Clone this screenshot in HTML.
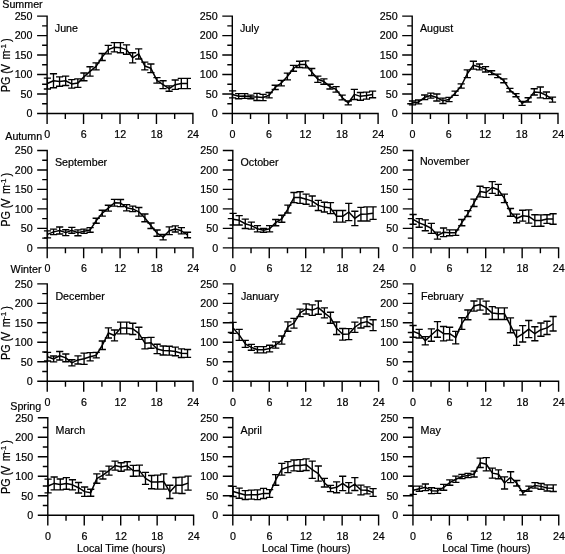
<!DOCTYPE html>
<html><head><meta charset="utf-8"><style>html,body{margin:0;padding:0;background:#fff}svg{display:block;will-change:transform;opacity:0.999}text{stroke:#000;stroke-width:0.2px}</style></head>
<body><svg width="565" height="554" viewBox="0 0 565 554" font-family="Liberation Sans, sans-serif" font-size="10.7" fill="#000"><rect width="565" height="554" fill="#fff"/><text x="2.3" y="8.0">Summer</text><text transform="translate(10.0,92.30) rotate(-90) scale(0.9,1)" font-size="12">PG</text><text transform="translate(10.0,73.80) rotate(-90) scale(0.9,1)" font-size="12">(</text><text transform="translate(10.0,71.30) rotate(-90) scale(0.9,1)" font-size="12">V</text><text transform="translate(10.0,59.60) rotate(-90) scale(0.9,1)" font-size="12">m</text><text transform="translate(5.8,51.20) rotate(-90) scale(1.0,1)" font-size="8">-1</text><text transform="translate(10.0,42.10) rotate(-90) scale(0.9,1)" font-size="12">)</text><path d="M47.10 15.40V123.90M37.10 113.50H193.60M42.10 103.76H47.10M37.10 94.02H47.10M42.10 84.28H47.10M37.10 74.54H47.10M42.10 64.80H47.10M37.10 55.06H47.10M42.10 45.32H47.10M37.10 35.58H47.10M42.10 25.84H47.10M37.10 16.10H47.10M65.33 113.50V119.00M83.55 113.50V123.90M101.78 113.50V119.00M120.00 113.50V123.90M138.22 113.50V119.00M156.45 113.50V123.90M174.68 113.50V119.00M192.90 113.50V123.90" stroke="#000" stroke-width="1.4" fill="none"/><text x="32.5" y="117.3" text-anchor="end">0</text><text x="32.5" y="97.8" text-anchor="end">50</text><text x="32.5" y="78.3" text-anchor="end">100</text><text x="32.5" y="58.9" text-anchor="end">150</text><text x="32.5" y="39.4" text-anchor="end">200</text><text x="32.5" y="19.9" text-anchor="end">250</text><text x="47.3" y="138.1" text-anchor="middle">0</text><text x="83.8" y="138.1" text-anchor="middle">6</text><text x="120.2" y="138.1" text-anchor="middle">12</text><text x="156.7" y="138.1" text-anchor="middle">18</text><text x="193.1" y="138.1" text-anchor="middle">24</text><text x="54.8" y="32.2">June</text><path d="M47.40 78.05V88.96M43.80 78.05h7.2M43.80 88.96h7.2M53.49 73.76V87.79M49.89 73.76h7.2M49.89 87.79h7.2M59.57 76.88V86.23M55.97 76.88h7.2M55.97 86.23h7.2M65.66 76.10V85.45M62.06 76.10h7.2M62.06 85.45h7.2M71.75 79.60V88.18M68.15 79.60h7.2M68.15 88.18h7.2M77.83 78.83V87.40M74.23 78.83h7.2M74.23 87.40h7.2M83.92 72.98V80.77M80.32 72.98h7.2M80.32 80.77h7.2M90.01 66.75V76.10M86.41 66.75h7.2M86.41 76.10h7.2M96.10 62.85V69.86M92.50 62.85h7.2M92.50 69.86h7.2M102.18 53.50V60.51M98.58 53.50h7.2M98.58 60.51h7.2M108.27 45.32V53.89M104.67 45.32h7.2M104.67 53.89h7.2M114.36 42.59V51.94M110.76 42.59h7.2M110.76 51.94h7.2M120.44 42.59V52.72M116.84 42.59h7.2M116.84 52.72h7.2M126.53 44.93V54.28M122.93 44.93h7.2M122.93 54.28h7.2M132.62 52.72V62.85M129.02 52.72h7.2M129.02 62.85h7.2M138.70 48.83V58.96M135.10 48.83h7.2M135.10 58.96h7.2M144.79 62.07V69.86M141.19 62.07h7.2M141.19 69.86h7.2M150.88 64.02V72.59M147.28 64.02h7.2M147.28 72.59h7.2M156.97 77.66V83.11M153.37 77.66h7.2M153.37 83.11h7.2M163.05 80.77V88.57M159.45 80.77h7.2M159.45 88.57h7.2M169.14 85.84V91.29M165.54 85.84h7.2M165.54 91.29h7.2M175.23 79.99V89.34M171.63 79.99h7.2M171.63 89.34h7.2M181.31 78.44V88.57M177.71 78.44h7.2M177.71 88.57h7.2M187.40 78.44V88.57M183.80 78.44h7.2M183.80 88.57h7.2" stroke="#000" stroke-width="1.35" fill="none"/><polyline points="47.40,83.50 53.49,80.77 59.57,81.55 65.66,80.77 71.75,83.89 77.83,83.11 83.92,76.88 90.01,71.42 96.10,66.36 102.18,57.01 108.27,49.61 114.36,47.27 120.44,47.66 126.53,49.61 132.62,57.79 138.70,53.89 144.79,65.97 150.88,68.31 156.97,80.38 163.05,84.67 169.14,88.57 175.23,84.67 181.31,83.50 187.40,83.50" stroke="#000" stroke-width="1.5" fill="none" stroke-linejoin="round"/><path d="M232.30 15.40V123.90M222.30 113.50H378.80M227.30 103.76H232.30M222.30 94.02H232.30M227.30 84.28H232.30M222.30 74.54H232.30M227.30 64.80H232.30M222.30 55.06H232.30M227.30 45.32H232.30M222.30 35.58H232.30M227.30 25.84H232.30M222.30 16.10H232.30M250.53 113.50V119.00M268.75 113.50V123.90M286.98 113.50V119.00M305.20 113.50V123.90M323.43 113.50V119.00M341.65 113.50V123.90M359.88 113.50V119.00M378.10 113.50V123.90" stroke="#000" stroke-width="1.4" fill="none"/><text x="217.7" y="117.3" text-anchor="end">0</text><text x="217.7" y="97.8" text-anchor="end">50</text><text x="217.7" y="78.3" text-anchor="end">100</text><text x="217.7" y="58.9" text-anchor="end">150</text><text x="217.7" y="39.4" text-anchor="end">200</text><text x="217.7" y="19.9" text-anchor="end">250</text><text x="232.5" y="138.1" text-anchor="middle">0</text><text x="268.9" y="138.1" text-anchor="middle">6</text><text x="305.4" y="138.1" text-anchor="middle">12</text><text x="341.9" y="138.1" text-anchor="middle">18</text><text x="378.3" y="138.1" text-anchor="middle">24</text><text x="240.0" y="32.2">July</text><path d="M232.60 90.90V97.92M229.00 90.90h7.2M229.00 97.92h7.2M238.69 93.63V98.70M235.09 93.63h7.2M235.09 98.70h7.2M244.77 93.63V98.31M241.17 93.63h7.2M241.17 98.31h7.2M250.86 95.19V98.70M247.26 95.19h7.2M247.26 98.70h7.2M256.95 93.44V100.45M253.35 93.44h7.2M253.35 100.45h7.2M263.04 94.41V100.64M259.44 94.41h7.2M259.44 100.64h7.2M269.12 92.46V97.92M265.52 92.46h7.2M265.52 97.92h7.2M275.21 85.25V89.54M271.61 85.25h7.2M271.61 89.54h7.2M281.30 80.38V85.84M277.70 80.38h7.2M277.70 85.84h7.2M287.38 73.18V79.80M283.78 73.18h7.2M283.78 79.80h7.2M293.47 65.38V71.23M289.87 65.38h7.2M289.87 71.23h7.2M299.56 61.29V67.53M295.96 61.29h7.2M295.96 67.53h7.2M305.64 60.90V67.92M302.04 60.90h7.2M302.04 67.92h7.2M311.73 68.50V75.51M308.13 68.50h7.2M308.13 75.51h7.2M317.82 76.10V82.33M314.22 76.10h7.2M314.22 82.33h7.2M323.91 78.83V84.28M320.31 78.83h7.2M320.31 84.28h7.2M329.99 84.28V88.96M326.39 84.28h7.2M326.39 88.96h7.2M336.08 86.62V92.07M332.48 86.62h7.2M332.48 92.07h7.2M342.17 95.19V99.86M338.57 95.19h7.2M338.57 99.86h7.2M348.25 101.03V104.93M344.65 101.03h7.2M344.65 104.93h7.2M354.34 89.34V99.47M350.74 89.34h7.2M350.74 99.47h7.2M360.43 92.46V100.25M356.83 92.46h7.2M356.83 100.25h7.2M366.51 92.07V99.08M362.91 92.07h7.2M362.91 99.08h7.2M372.60 91.10V97.72M369.00 91.10h7.2M369.00 97.72h7.2" stroke="#000" stroke-width="1.35" fill="none"/><polyline points="232.60,94.41 238.69,96.16 244.77,95.97 250.86,96.94 256.95,96.94 263.04,97.53 269.12,95.19 275.21,87.40 281.30,83.11 287.38,76.49 293.47,68.31 299.56,64.41 305.64,64.41 311.73,72.01 317.82,79.22 323.91,81.55 329.99,86.62 336.08,89.34 342.17,97.53 348.25,102.98 354.34,94.41 360.43,96.36 366.51,95.58 372.60,94.41" stroke="#000" stroke-width="1.5" fill="none" stroke-linejoin="round"/><path d="M412.20 15.40V123.90M402.20 113.50H558.70M407.20 103.76H412.20M402.20 94.02H412.20M407.20 84.28H412.20M402.20 74.54H412.20M407.20 64.80H412.20M402.20 55.06H412.20M407.20 45.32H412.20M402.20 35.58H412.20M407.20 25.84H412.20M402.20 16.10H412.20M430.43 113.50V119.00M448.65 113.50V123.90M466.88 113.50V119.00M485.10 113.50V123.90M503.32 113.50V119.00M521.55 113.50V123.90M539.77 113.50V119.00M558.00 113.50V123.90" stroke="#000" stroke-width="1.4" fill="none"/><text x="397.6" y="117.3" text-anchor="end">0</text><text x="397.6" y="97.8" text-anchor="end">50</text><text x="397.6" y="78.3" text-anchor="end">100</text><text x="397.6" y="58.9" text-anchor="end">150</text><text x="397.6" y="39.4" text-anchor="end">200</text><text x="397.6" y="19.9" text-anchor="end">250</text><text x="412.4" y="138.1" text-anchor="middle">0</text><text x="448.8" y="138.1" text-anchor="middle">6</text><text x="485.3" y="138.1" text-anchor="middle">12</text><text x="521.8" y="138.1" text-anchor="middle">18</text><text x="558.2" y="138.1" text-anchor="middle">24</text><text x="419.9" y="32.2">August</text><path d="M412.50 101.03V104.93M408.90 101.03h7.2M408.90 104.93h7.2M418.59 99.98V103.88M414.99 99.98h7.2M414.99 103.88h7.2M424.67 94.99V99.67M421.07 94.99h7.2M421.07 99.67h7.2M430.76 93.05V98.11M427.16 93.05h7.2M427.16 98.11h7.2M436.85 94.02V101.03M433.25 94.02h7.2M433.25 101.03h7.2M442.94 98.07V103.53M439.33 98.07h7.2M439.33 103.53h7.2M449.02 97.33V101.62M445.42 97.33h7.2M445.42 101.62h7.2M455.11 91.10V95.38M451.51 91.10h7.2M451.51 95.38h7.2M461.20 83.81V88.10M457.60 83.81h7.2M457.60 88.10h7.2M467.28 69.86V77.66M463.68 69.86h7.2M463.68 77.66h7.2M473.37 61.29V69.09M469.77 61.29h7.2M469.77 69.09h7.2M479.46 64.02V69.86M475.86 64.02h7.2M475.86 69.86h7.2M485.54 66.55V72.01M481.94 66.55h7.2M481.94 72.01h7.2M491.63 70.76V74.66M488.03 70.76h7.2M488.03 74.66h7.2M497.72 74.15V77.66M494.12 74.15h7.2M494.12 77.66h7.2M503.81 78.83V82.72M500.20 78.83h7.2M500.20 82.72h7.2M509.89 88.37V91.88M506.29 88.37h7.2M506.29 91.88h7.2M515.98 93.63V96.75M512.38 93.63h7.2M512.38 96.75h7.2M522.07 101.42V105.32M518.47 101.42h7.2M518.47 105.32h7.2M528.15 97.72V102.01M524.55 97.72h7.2M524.55 102.01h7.2M534.24 88.76V94.99M530.64 88.76h7.2M530.64 94.99h7.2M540.33 87.01V97.92M536.73 87.01h7.2M536.73 97.92h7.2M546.41 91.99V98.62M542.81 91.99h7.2M542.81 98.62h7.2M552.50 97.10V102.16M548.90 97.10h7.2M548.90 102.16h7.2" stroke="#000" stroke-width="1.35" fill="none"/><polyline points="412.50,102.98 418.59,101.93 424.67,97.33 430.76,95.58 436.85,97.53 442.94,100.80 449.02,99.47 455.11,93.24 461.20,85.96 467.28,73.76 473.37,65.19 479.46,66.94 485.54,69.28 491.63,72.71 497.72,75.90 503.81,80.77 509.89,90.12 515.98,95.19 522.07,103.37 528.15,99.86 534.24,91.88 540.33,92.46 546.41,95.31 552.50,99.63" stroke="#000" stroke-width="1.5" fill="none" stroke-linejoin="round"/><text x="5.3" y="140.4">Autumn</text><text transform="translate(10.0,226.65) rotate(-90) scale(0.9,1)" font-size="12">PG</text><text transform="translate(10.0,208.15) rotate(-90) scale(0.9,1)" font-size="12">(</text><text transform="translate(10.0,205.65) rotate(-90) scale(0.9,1)" font-size="12">V</text><text transform="translate(10.0,193.95) rotate(-90) scale(0.9,1)" font-size="12">m</text><text transform="translate(5.8,185.55) rotate(-90) scale(1.0,1)" font-size="8">-1</text><text transform="translate(10.0,176.45) rotate(-90) scale(0.9,1)" font-size="12">)</text><path d="M47.20 149.75V258.25M37.20 247.85H193.70M42.20 238.11H47.20M37.20 228.37H47.20M42.20 218.63H47.20M37.20 208.89H47.20M42.20 199.15H47.20M37.20 189.41H47.20M42.20 179.67H47.20M37.20 169.93H47.20M42.20 160.19H47.20M37.20 150.45H47.20M65.43 247.85V253.35M83.65 247.85V258.25M101.88 247.85V253.35M120.10 247.85V258.25M138.32 247.85V253.35M156.55 247.85V258.25M174.78 247.85V253.35M193.00 247.85V258.25" stroke="#000" stroke-width="1.4" fill="none"/><text x="32.6" y="251.7" text-anchor="end">0</text><text x="32.6" y="232.2" text-anchor="end">50</text><text x="32.6" y="212.7" text-anchor="end">100</text><text x="32.6" y="193.2" text-anchor="end">150</text><text x="32.6" y="173.7" text-anchor="end">200</text><text x="32.6" y="154.2" text-anchor="end">250</text><text x="47.4" y="272.4" text-anchor="middle">0</text><text x="83.9" y="272.4" text-anchor="middle">6</text><text x="120.3" y="272.4" text-anchor="middle">12</text><text x="156.8" y="272.4" text-anchor="middle">18</text><text x="193.2" y="272.4" text-anchor="middle">24</text><text x="54.9" y="166.2">September</text><path d="M47.50 230.90V237.92M43.90 230.90h7.2M43.90 237.92h7.2M53.59 229.15V234.60M49.99 229.15h7.2M49.99 234.60h7.2M59.67 227.01V234.02M56.07 227.01h7.2M56.07 234.02h7.2M65.76 229.73V235.58M62.16 229.73h7.2M62.16 235.58h7.2M71.85 227.40V233.24M68.25 227.40h7.2M68.25 233.24h7.2M77.94 229.89V235.73M74.34 229.89h7.2M74.34 235.73h7.2M84.02 229.07V233.36M80.42 229.07h7.2M80.42 233.36h7.2M90.11 227.59V232.27M86.51 227.59h7.2M86.51 232.27h7.2M96.20 218.20V223.27M92.60 218.20h7.2M92.60 223.27h7.2M102.28 210.25V216.10M98.68 210.25h7.2M98.68 216.10h7.2M108.37 205.27V211.11M104.77 205.27h7.2M104.77 211.11h7.2M114.46 199.42V206.05M110.86 199.42h7.2M110.86 206.05h7.2M120.54 199.54V206.55M116.94 199.54h7.2M116.94 206.55h7.2M126.63 204.60V210.84M123.03 204.60h7.2M123.03 210.84h7.2M132.72 206.16V211.62M129.12 206.16h7.2M129.12 211.62h7.2M138.81 207.53V216.10M135.21 207.53h7.2M135.21 216.10h7.2M144.89 213.95V221.75M141.29 213.95h7.2M141.29 221.75h7.2M150.98 223.03V228.49M147.38 223.03h7.2M147.38 228.49h7.2M157.07 230.01V236.24M153.47 230.01h7.2M153.47 236.24h7.2M163.15 234.41V239.86M159.55 234.41h7.2M159.55 239.86h7.2M169.24 226.89V234.68M165.64 226.89h7.2M165.64 234.68h7.2M175.33 225.80V232.03M171.73 225.80h7.2M171.73 232.03h7.2M181.41 227.67V233.90M177.81 227.67h7.2M177.81 233.90h7.2M187.50 232.27V237.72M183.90 232.27h7.2M183.90 237.72h7.2" stroke="#000" stroke-width="1.35" fill="none"/><polyline points="47.50,234.41 53.59,231.88 59.67,230.51 65.76,232.66 71.85,230.32 77.94,232.81 84.02,231.21 90.11,229.93 96.20,220.73 102.28,213.18 108.37,208.19 114.46,202.73 120.54,203.05 126.63,207.72 132.72,208.89 138.81,211.81 144.89,217.85 150.98,225.76 157.07,233.12 163.15,237.14 169.24,230.79 175.33,228.92 181.41,230.79 187.50,234.99" stroke="#000" stroke-width="1.5" fill="none" stroke-linejoin="round"/><path d="M232.80 149.75V258.25M222.80 247.85H379.30M227.80 238.11H232.80M222.80 228.37H232.80M227.80 218.63H232.80M222.80 208.89H232.80M227.80 199.15H232.80M222.80 189.41H232.80M227.80 179.67H232.80M222.80 169.93H232.80M227.80 160.19H232.80M222.80 150.45H232.80M251.03 247.85V253.35M269.25 247.85V258.25M287.48 247.85V253.35M305.70 247.85V258.25M323.93 247.85V253.35M342.15 247.85V258.25M360.38 247.85V253.35M378.60 247.85V258.25" stroke="#000" stroke-width="1.4" fill="none"/><text x="218.2" y="251.7" text-anchor="end">0</text><text x="218.2" y="232.2" text-anchor="end">50</text><text x="218.2" y="212.7" text-anchor="end">100</text><text x="218.2" y="193.2" text-anchor="end">150</text><text x="218.2" y="173.7" text-anchor="end">200</text><text x="218.2" y="154.2" text-anchor="end">250</text><text x="233.0" y="272.4" text-anchor="middle">0</text><text x="269.4" y="272.4" text-anchor="middle">6</text><text x="305.9" y="272.4" text-anchor="middle">12</text><text x="342.4" y="272.4" text-anchor="middle">18</text><text x="378.8" y="272.4" text-anchor="middle">24</text><text x="240.5" y="165.8">October</text><path d="M233.10 213.33V225.02M229.50 213.33h7.2M229.50 225.02h7.2M239.19 215.67V225.02M235.59 215.67h7.2M235.59 225.02h7.2M245.27 219.10V228.45M241.67 219.10h7.2M241.67 228.45h7.2M251.36 222.14V229.15M247.76 222.14h7.2M247.76 229.15h7.2M257.45 225.64V231.88M253.85 225.64h7.2M253.85 231.88h7.2M263.54 228.37V232.27M259.94 228.37h7.2M259.94 232.27h7.2M269.62 225.64V231.88M266.02 225.64h7.2M266.02 231.88h7.2M275.71 219.53V225.76M272.11 219.53h7.2M272.11 225.76h7.2M281.80 215.24V222.25M278.20 215.24h7.2M278.20 222.25h7.2M287.88 205.19V212.98M284.28 205.19h7.2M284.28 212.98h7.2M293.97 192.53V202.66M290.37 192.53h7.2M290.37 202.66h7.2M300.06 191.75V203.44M296.46 191.75h7.2M296.46 203.44h7.2M306.14 194.09V204.21M302.54 194.09h7.2M302.54 204.21h7.2M312.23 196.03V206.16M308.63 196.03h7.2M308.63 206.16h7.2M318.32 200.32V210.45M314.72 200.32h7.2M314.72 210.45h7.2M324.41 202.23V211.97M320.81 202.23h7.2M320.81 211.97h7.2M330.49 202.66V213.57M326.89 202.66h7.2M326.89 213.57h7.2M336.58 210.45V222.14M332.98 210.45h7.2M332.98 222.14h7.2M342.67 210.45V222.14M339.07 210.45h7.2M339.07 222.14h7.2M348.75 203.44V220.58M345.15 203.44h7.2M345.15 220.58h7.2M354.84 211.27V225.68M351.24 211.27h7.2M351.24 225.68h7.2M360.93 207.33V220.97M357.33 207.33h7.2M357.33 220.97h7.2M367.01 206.94V220.97M363.41 206.94h7.2M363.41 220.97h7.2M373.10 206.94V219.41M369.50 206.94h7.2M369.50 219.41h7.2" stroke="#000" stroke-width="1.35" fill="none"/><polyline points="233.10,219.18 239.19,220.34 245.27,223.77 251.36,225.64 257.45,228.76 263.54,230.32 269.62,228.76 275.71,222.64 281.80,218.75 287.88,209.08 293.97,197.59 300.06,197.59 306.14,199.15 312.23,201.10 318.32,205.38 324.41,207.10 330.49,208.11 336.58,216.29 342.67,216.29 348.75,212.01 354.84,218.47 360.93,214.15 367.01,213.95 373.10,213.18" stroke="#000" stroke-width="1.5" fill="none" stroke-linejoin="round"/><path d="M412.80 149.75V258.25M402.80 247.85H559.30M407.80 238.11H412.80M402.80 228.37H412.80M407.80 218.63H412.80M402.80 208.89H412.80M407.80 199.15H412.80M402.80 189.41H412.80M407.80 179.67H412.80M402.80 169.93H412.80M407.80 160.19H412.80M402.80 150.45H412.80M431.03 247.85V253.35M449.25 247.85V258.25M467.48 247.85V253.35M485.70 247.85V258.25M503.93 247.85V253.35M522.15 247.85V258.25M540.38 247.85V253.35M558.60 247.85V258.25" stroke="#000" stroke-width="1.4" fill="none"/><text x="398.2" y="251.7" text-anchor="end">0</text><text x="398.2" y="232.2" text-anchor="end">50</text><text x="398.2" y="212.7" text-anchor="end">100</text><text x="398.2" y="193.2" text-anchor="end">150</text><text x="398.2" y="173.7" text-anchor="end">200</text><text x="398.2" y="154.2" text-anchor="end">250</text><text x="413.0" y="272.4" text-anchor="middle">0</text><text x="449.4" y="272.4" text-anchor="middle">6</text><text x="485.9" y="272.4" text-anchor="middle">12</text><text x="522.4" y="272.4" text-anchor="middle">18</text><text x="558.8" y="272.4" text-anchor="middle">24</text><text x="419.9" y="165.2">November</text><path d="M413.10 214.54V224.28M409.50 214.54h7.2M409.50 224.28h7.2M419.19 218.63V227.20M415.59 218.63h7.2M415.59 227.20h7.2M425.27 219.80V230.71M421.67 219.80h7.2M421.67 230.71h7.2M431.36 223.31V233.43M427.76 223.31h7.2M427.76 233.43h7.2M437.45 232.07V239.08M433.85 232.07h7.2M433.85 239.08h7.2M443.54 227.98V236.55M439.94 227.98h7.2M439.94 236.55h7.2M449.62 229.93V235.77M446.02 229.93h7.2M446.02 235.77h7.2M455.71 229.93V235.38M452.11 229.93h7.2M452.11 235.38h7.2M461.80 219.53V225.76M458.20 219.53h7.2M458.20 225.76h7.2M467.88 210.64V216.49M464.28 210.64h7.2M464.28 216.49h7.2M473.97 199.07V206.47M470.37 199.07h7.2M470.37 206.47h7.2M480.06 186.29V196.81M476.46 186.29h7.2M476.46 196.81h7.2M486.14 187.66V197.40M482.54 187.66h7.2M482.54 197.40h7.2M492.23 181.62V193.31M488.63 181.62h7.2M488.63 193.31h7.2M498.32 184.35V195.25M494.72 184.35h7.2M494.72 195.25h7.2M504.41 194.09V202.66M500.81 194.09h7.2M500.81 202.66h7.2M510.49 208.50V216.29M506.89 208.50h7.2M506.89 216.29h7.2M516.58 214.19V222.76M512.98 214.19h7.2M512.98 222.76h7.2M522.67 210.25V221.16M519.07 210.25h7.2M519.07 221.16h7.2M528.75 209.83V223.07M525.15 209.83h7.2M525.15 223.07h7.2M534.84 214.73V226.42M531.24 214.73h7.2M531.24 226.42h7.2M540.93 214.93V226.23M537.33 214.93h7.2M537.33 226.23h7.2M547.01 214.73V223.31M543.41 214.73h7.2M543.41 223.31h7.2M553.10 213.76V224.28M549.50 213.76h7.2M549.50 224.28h7.2" stroke="#000" stroke-width="1.35" fill="none"/><polyline points="413.10,219.41 419.19,222.92 425.27,225.25 431.36,228.37 437.45,235.58 443.54,232.27 449.62,232.85 455.71,232.66 461.80,222.64 467.88,213.57 473.97,202.77 480.06,191.55 486.14,192.53 492.23,187.46 498.32,189.80 504.41,198.37 510.49,212.40 516.58,218.47 522.67,215.71 528.75,216.45 534.84,220.58 540.93,220.58 547.01,219.02 553.10,219.02" stroke="#000" stroke-width="1.5" fill="none" stroke-linejoin="round"/><text x="10.6" y="272.8">Winter</text><text transform="translate(10.0,360.05) rotate(-90) scale(0.9,1)" font-size="12">PG</text><text transform="translate(10.0,341.55) rotate(-90) scale(0.9,1)" font-size="12">(</text><text transform="translate(10.0,339.05) rotate(-90) scale(0.9,1)" font-size="12">V</text><text transform="translate(10.0,327.35) rotate(-90) scale(0.9,1)" font-size="12">m</text><text transform="translate(5.8,318.95) rotate(-90) scale(1.0,1)" font-size="8">-1</text><text transform="translate(10.0,309.85) rotate(-90) scale(0.9,1)" font-size="12">)</text><path d="M47.25 283.15V391.65M37.25 381.25H193.75M42.25 371.51H47.25M37.25 361.77H47.25M42.25 352.03H47.25M37.25 342.29H47.25M42.25 332.55H47.25M37.25 322.81H47.25M42.25 313.07H47.25M37.25 303.33H47.25M42.25 293.59H47.25M37.25 283.85H47.25M65.47 381.25V386.75M83.70 381.25V391.65M101.93 381.25V386.75M120.15 381.25V391.65M138.38 381.25V386.75M156.60 381.25V391.65M174.82 381.25V386.75M193.05 381.25V391.65" stroke="#000" stroke-width="1.4" fill="none"/><text x="32.6" y="385.1" text-anchor="end">0</text><text x="32.6" y="365.6" text-anchor="end">50</text><text x="32.6" y="346.1" text-anchor="end">100</text><text x="32.6" y="326.6" text-anchor="end">150</text><text x="32.6" y="307.1" text-anchor="end">200</text><text x="32.6" y="287.7" text-anchor="end">250</text><text x="47.5" y="405.9" text-anchor="middle">0</text><text x="83.9" y="405.9" text-anchor="middle">6</text><text x="120.4" y="405.9" text-anchor="middle">12</text><text x="156.8" y="405.9" text-anchor="middle">18</text><text x="193.2" y="405.9" text-anchor="middle">24</text><text x="55.4" y="299.9">December</text><path d="M47.55 352.42V360.99M43.95 352.42h7.2M43.95 360.99h7.2M53.64 356.00V361.85M50.04 356.00h7.2M50.04 361.85h7.2M59.72 351.45V360.02M56.12 351.45h7.2M56.12 360.02h7.2M65.81 353.98V361.77M62.21 353.98h7.2M62.21 361.77h7.2M71.90 359.71V365.94M68.30 359.71h7.2M68.30 365.94h7.2M77.98 355.85V364.03M74.39 355.85h7.2M74.39 364.03h7.2M84.07 353.12V364.42M80.47 353.12h7.2M80.47 364.42h7.2M90.16 352.61V360.80M86.56 352.61h7.2M86.56 360.80h7.2M96.25 352.42V357.87M92.65 352.42h7.2M92.65 357.87h7.2M102.33 340.97V349.54M98.73 340.97h7.2M98.73 349.54h7.2M108.42 327.87V338.00M104.82 327.87h7.2M104.82 338.00h7.2M114.51 330.02V340.93M110.91 330.02h7.2M110.91 340.93h7.2M120.59 322.15V333.84M116.99 322.15h7.2M116.99 333.84h7.2M126.68 322.15V333.84M123.08 322.15h7.2M123.08 333.84h7.2M132.77 323.20V334.50M129.17 323.20h7.2M129.17 334.50h7.2M138.85 327.29V339.37M135.25 327.29h7.2M135.25 339.37h7.2M144.94 337.58V348.87M141.34 337.58h7.2M141.34 348.87h7.2M151.03 337.34V348.25M147.43 337.34h7.2M147.43 348.25h7.2M157.12 344.24V353.59M153.52 344.24h7.2M153.52 353.59h7.2M163.20 345.99V354.95M159.60 345.99h7.2M159.60 354.95h7.2M169.29 346.22V355.19M165.69 346.22h7.2M165.69 355.19h7.2M175.38 347.16V355.73M171.78 347.16h7.2M171.78 355.73h7.2M181.46 348.91V357.48M177.86 348.91h7.2M177.86 357.48h7.2M187.55 349.54V357.33M183.95 349.54h7.2M183.95 357.33h7.2" stroke="#000" stroke-width="1.35" fill="none"/><polyline points="47.55,356.71 53.64,358.93 59.72,355.73 65.81,357.87 71.90,362.82 77.98,359.94 84.07,358.77 90.16,356.71 96.25,355.15 102.33,345.25 108.42,332.94 114.51,335.47 120.59,327.99 126.68,327.99 132.77,328.85 138.85,333.33 144.94,343.23 151.03,342.80 157.12,348.91 163.20,350.47 169.29,350.71 175.38,351.45 181.46,353.20 187.55,353.43" stroke="#000" stroke-width="1.5" fill="none" stroke-linejoin="round"/><path d="M232.80 283.15V391.65M222.80 381.25H379.30M227.80 371.51H232.80M222.80 361.77H232.80M227.80 352.03H232.80M222.80 342.29H232.80M227.80 332.55H232.80M222.80 322.81H232.80M227.80 313.07H232.80M222.80 303.33H232.80M227.80 293.59H232.80M222.80 283.85H232.80M251.03 381.25V386.75M269.25 381.25V391.65M287.48 381.25V386.75M305.70 381.25V391.65M323.93 381.25V386.75M342.15 381.25V391.65M360.38 381.25V386.75M378.60 381.25V391.65" stroke="#000" stroke-width="1.4" fill="none"/><text x="218.2" y="385.1" text-anchor="end">0</text><text x="218.2" y="365.6" text-anchor="end">50</text><text x="218.2" y="346.1" text-anchor="end">100</text><text x="218.2" y="326.6" text-anchor="end">150</text><text x="218.2" y="307.1" text-anchor="end">200</text><text x="218.2" y="287.7" text-anchor="end">250</text><text x="233.0" y="405.9" text-anchor="middle">0</text><text x="269.4" y="405.9" text-anchor="middle">6</text><text x="305.9" y="405.9" text-anchor="middle">12</text><text x="342.4" y="405.9" text-anchor="middle">18</text><text x="378.8" y="405.9" text-anchor="middle">24</text><text x="240.9" y="299.9">January</text><path d="M233.10 322.42V333.33M229.50 322.42h7.2M229.50 333.33h7.2M239.19 329.43V340.34M235.59 329.43h7.2M235.59 340.34h7.2M245.27 340.34V347.35M241.67 340.34h7.2M241.67 347.35h7.2M251.36 344.43V350.28M247.76 344.43h7.2M247.76 350.28h7.2M257.45 346.58V352.81M253.85 346.58h7.2M253.85 352.81h7.2M263.54 346.58V352.81M259.94 346.58h7.2M259.94 352.81h7.2M269.62 345.21V351.84M266.02 345.21h7.2M266.02 351.84h7.2M275.71 341.90V348.13M272.11 341.90h7.2M272.11 348.13h7.2M281.80 335.98V344.16M278.20 335.98h7.2M278.20 344.16h7.2M287.88 321.87V331.23M284.28 321.87h7.2M284.28 331.23h7.2M293.97 318.33V328.07M290.37 318.33h7.2M290.37 328.07h7.2M300.06 309.17V316.58M296.46 309.17h7.2M296.46 316.58h7.2M306.14 303.91V314.04M302.54 303.91h7.2M302.54 314.04h7.2M312.23 304.85V315.37M308.63 304.85h7.2M308.63 315.37h7.2M318.32 300.99V314.24M314.72 300.99h7.2M314.72 314.24h7.2M324.41 307.81V317.94M320.81 307.81h7.2M320.81 317.94h7.2M330.49 312.29V323.20M326.89 312.29h7.2M326.89 323.20h7.2M336.58 322.03V334.50M332.98 322.03h7.2M332.98 334.50h7.2M342.67 328.46V340.15M339.07 328.46h7.2M339.07 340.15h7.2M348.75 328.65V339.56M345.15 328.65h7.2M345.15 339.56h7.2M354.84 322.19V332.32M351.24 322.19h7.2M351.24 332.32h7.2M360.93 317.86V327.99M357.33 317.86h7.2M357.33 327.99h7.2M367.01 316.77V326.51M363.41 316.77h7.2M363.41 326.51h7.2M373.10 319.77V330.68M369.50 319.77h7.2M369.50 330.68h7.2" stroke="#000" stroke-width="1.35" fill="none"/><polyline points="233.10,327.87 239.19,334.89 245.27,343.85 251.36,347.35 257.45,349.69 263.54,349.69 269.62,348.52 275.71,345.02 281.80,340.07 287.88,326.55 293.97,323.20 300.06,312.88 306.14,308.98 312.23,310.11 318.32,307.62 324.41,312.88 330.49,317.75 336.58,328.26 342.67,334.30 348.75,334.11 354.84,327.25 360.93,322.93 367.01,321.64 373.10,325.23" stroke="#000" stroke-width="1.5" fill="none" stroke-linejoin="round"/><path d="M412.80 283.15V391.65M402.80 381.25H559.30M407.80 371.51H412.80M402.80 361.77H412.80M407.80 352.03H412.80M402.80 342.29H412.80M407.80 332.55H412.80M402.80 322.81H412.80M407.80 313.07H412.80M402.80 303.33H412.80M407.80 293.59H412.80M402.80 283.85H412.80M431.03 381.25V386.75M449.25 381.25V391.65M467.48 381.25V386.75M485.70 381.25V391.65M503.93 381.25V386.75M522.15 381.25V391.65M540.38 381.25V386.75M558.60 381.25V391.65" stroke="#000" stroke-width="1.4" fill="none"/><text x="398.2" y="385.1" text-anchor="end">0</text><text x="398.2" y="365.6" text-anchor="end">50</text><text x="398.2" y="346.1" text-anchor="end">100</text><text x="398.2" y="326.6" text-anchor="end">150</text><text x="398.2" y="307.1" text-anchor="end">200</text><text x="398.2" y="287.7" text-anchor="end">250</text><text x="413.0" y="405.9" text-anchor="middle">0</text><text x="449.4" y="405.9" text-anchor="middle">6</text><text x="485.9" y="405.9" text-anchor="middle">12</text><text x="522.4" y="405.9" text-anchor="middle">18</text><text x="558.8" y="405.9" text-anchor="middle">24</text><text x="420.9" y="299.9">February</text><path d="M413.10 325.54V337.23M409.50 325.54h7.2M409.50 337.23h7.2M419.19 329.43V338.00M415.59 329.43h7.2M415.59 338.00h7.2M425.27 336.64V344.82M421.67 336.64h7.2M421.67 344.82h7.2M431.36 328.81V341.28M427.76 328.81h7.2M427.76 341.28h7.2M437.45 321.64V337.23M433.85 321.64h7.2M433.85 337.23h7.2M443.54 326.51V340.93M439.94 326.51h7.2M439.94 340.93h7.2M449.62 327.29V340.15M446.02 327.29h7.2M446.02 340.15h7.2M455.71 331.38V343.85M452.11 331.38h7.2M452.11 343.85h7.2M461.80 317.75V329.43M458.20 317.75h7.2M458.20 329.43h7.2M467.88 309.99V319.73M464.28 309.99h7.2M464.28 319.73h7.2M473.97 300.99V311.12M470.37 300.99h7.2M470.37 311.12h7.2M480.06 298.85V310.15M476.46 298.85h7.2M476.46 310.15h7.2M486.14 301.19V314.04M482.54 301.19h7.2M482.54 314.04h7.2M492.23 306.64V319.50M488.63 306.64h7.2M488.63 319.50h7.2M498.32 307.85V319.54M494.72 307.85h7.2M494.72 319.54h7.2M504.41 307.85V319.54M500.81 307.85h7.2M500.81 319.54h7.2M510.49 317.94V332.74M506.89 317.94h7.2M506.89 332.74h7.2M516.58 330.13V345.33M512.98 330.13h7.2M512.98 345.33h7.2M522.67 325.65V342.02M519.07 325.65h7.2M519.07 342.02h7.2M528.75 320.47V337.61M525.15 320.47h7.2M525.15 337.61h7.2M534.84 326.71V340.73M531.24 326.71h7.2M531.24 340.73h7.2M540.93 323.04V336.29M537.33 323.04h7.2M537.33 336.29h7.2M547.01 321.25V334.50M543.41 321.25h7.2M543.41 334.50h7.2M553.10 316.54V330.95M549.50 316.54h7.2M549.50 330.95h7.2" stroke="#000" stroke-width="1.35" fill="none"/><polyline points="413.10,331.38 419.19,333.72 425.27,340.73 431.36,335.04 437.45,329.43 443.54,333.72 449.62,333.72 455.71,337.61 461.80,323.59 467.88,314.86 473.97,306.06 480.06,304.50 486.14,307.62 492.23,313.07 498.32,313.69 504.41,313.69 510.49,325.34 516.58,337.73 522.67,333.84 528.75,329.04 534.84,333.72 540.93,329.67 547.01,327.87 553.10,323.75" stroke="#000" stroke-width="1.5" fill="none" stroke-linejoin="round"/><text x="10.3" y="409.6">Spring</text><text transform="translate(10.0,494.00) rotate(-90) scale(0.9,1)" font-size="12">PG</text><text transform="translate(10.0,475.50) rotate(-90) scale(0.9,1)" font-size="12">(</text><text transform="translate(10.0,473.00) rotate(-90) scale(0.9,1)" font-size="12">V</text><text transform="translate(10.0,461.30) rotate(-90) scale(0.9,1)" font-size="12">m</text><text transform="translate(5.8,452.90) rotate(-90) scale(1.0,1)" font-size="8">-1</text><text transform="translate(10.0,443.80) rotate(-90) scale(0.9,1)" font-size="12">)</text><path d="M47.80 417.10V525.60M37.80 515.20H194.30M42.80 505.46H47.80M37.80 495.72H47.80M42.80 485.98H47.80M37.80 476.24H47.80M42.80 466.50H47.80M37.80 456.76H47.80M42.80 447.02H47.80M37.80 437.28H47.80M42.80 427.54H47.80M37.80 417.80H47.80M66.03 515.20V520.70M84.25 515.20V525.60M102.47 515.20V520.70M120.70 515.20V525.60M138.93 515.20V520.70M157.15 515.20V525.60M175.38 515.20V520.70M193.60 515.20V525.60" stroke="#000" stroke-width="1.4" fill="none"/><text x="33.2" y="519.0" text-anchor="end">0</text><text x="33.2" y="499.5" text-anchor="end">50</text><text x="33.2" y="480.0" text-anchor="end">100</text><text x="33.2" y="460.6" text-anchor="end">150</text><text x="33.2" y="441.1" text-anchor="end">200</text><text x="33.2" y="421.6" text-anchor="end">250</text><text x="48.0" y="539.8" text-anchor="middle">0</text><text x="84.5" y="539.8" text-anchor="middle">6</text><text x="120.9" y="539.8" text-anchor="middle">12</text><text x="157.3" y="539.8" text-anchor="middle">18</text><text x="193.8" y="539.8" text-anchor="middle">24</text><text x="55.5" y="434.0">March</text><text x="121.3" y="552.0" text-anchor="middle">Local Time (hours)</text><path d="M48.10 479.16V492.80M44.50 479.16h7.2M44.50 492.80h7.2M54.19 476.98V489.84M50.59 476.98h7.2M50.59 489.84h7.2M60.27 478.97V489.88M56.67 478.97h7.2M56.67 489.88h7.2M66.36 477.56V489.25M62.76 477.56h7.2M62.76 489.25h7.2M72.45 479.75V489.88M68.85 479.75h7.2M68.85 489.88h7.2M78.53 482.47V492.99M74.94 482.47h7.2M74.94 492.99h7.2M84.62 486.95V496.30M81.02 486.95h7.2M81.02 496.30h7.2M90.71 489.25V496.27M87.11 489.25h7.2M87.11 496.27h7.2M96.80 473.90V483.25M93.20 473.90h7.2M93.20 483.25h7.2M102.88 471.18V478.97M99.28 471.18h7.2M99.28 478.97h7.2M108.97 466.11V475.07M105.37 466.11h7.2M105.37 475.07h7.2M115.06 461.08V470.05M111.46 461.08h7.2M111.46 470.05h7.2M121.14 462.72V471.29M117.54 462.72h7.2M117.54 471.29h7.2M127.23 461.75V469.93M123.63 461.75h7.2M123.63 469.93h7.2M133.32 465.33V476.24M129.72 465.33h7.2M129.72 476.24h7.2M139.40 465.14V476.05M135.80 465.14h7.2M135.80 476.05h7.2M145.49 472.34V484.42M141.89 472.34h7.2M141.89 484.42h7.2M151.58 475.46V488.71M147.98 475.46h7.2M147.98 488.71h7.2M157.67 475.07V489.10M154.07 475.07h7.2M154.07 489.10h7.2M163.75 473.94V489.14M160.15 473.94h7.2M160.15 489.14h7.2M169.84 485.28V498.53M166.24 485.28h7.2M166.24 498.53h7.2M175.93 477.49V493.07M172.33 477.49h7.2M172.33 493.07h7.2M182.01 477.10V493.46M178.41 477.10h7.2M178.41 493.46h7.2M188.10 476.08V490.11M184.50 476.08h7.2M184.50 490.11h7.2" stroke="#000" stroke-width="1.35" fill="none"/><polyline points="48.10,485.98 54.19,483.41 60.27,484.42 66.36,483.41 72.45,484.81 78.53,487.73 84.62,491.63 90.71,492.76 96.80,478.58 102.88,475.07 108.97,470.59 115.06,465.56 121.14,467.01 127.23,465.84 133.32,470.79 139.40,470.59 145.49,478.38 151.58,482.08 157.67,482.08 163.75,481.54 169.84,491.90 175.93,485.28 182.01,485.28 188.10,483.10" stroke="#000" stroke-width="1.5" fill="none" stroke-linejoin="round"/><path d="M232.80 417.10V525.60M222.80 515.20H379.30M227.80 505.46H232.80M222.80 495.72H232.80M227.80 485.98H232.80M222.80 476.24H232.80M227.80 466.50H232.80M222.80 456.76H232.80M227.80 447.02H232.80M222.80 437.28H232.80M227.80 427.54H232.80M222.80 417.80H232.80M251.03 515.20V520.70M269.25 515.20V525.60M287.48 515.20V520.70M305.70 515.20V525.60M323.93 515.20V520.70M342.15 515.20V525.60M360.38 515.20V520.70M378.60 515.20V525.60" stroke="#000" stroke-width="1.4" fill="none"/><text x="218.2" y="519.0" text-anchor="end">0</text><text x="218.2" y="499.5" text-anchor="end">50</text><text x="218.2" y="480.0" text-anchor="end">100</text><text x="218.2" y="460.6" text-anchor="end">150</text><text x="218.2" y="441.1" text-anchor="end">200</text><text x="218.2" y="421.6" text-anchor="end">250</text><text x="233.0" y="539.8" text-anchor="middle">0</text><text x="269.4" y="539.8" text-anchor="middle">6</text><text x="305.9" y="539.8" text-anchor="middle">12</text><text x="342.4" y="539.8" text-anchor="middle">18</text><text x="378.8" y="539.8" text-anchor="middle">24</text><text x="240.5" y="434.0">April</text><text x="306.3" y="552.0" text-anchor="middle">Local Time (hours)</text><path d="M233.10 486.37V496.50M229.50 486.37h7.2M229.50 496.50h7.2M239.19 488.12V498.25M235.59 488.12h7.2M235.59 498.25h7.2M245.27 490.58V499.54M241.67 490.58h7.2M241.67 499.54h7.2M251.36 490.15V499.11M247.76 490.15h7.2M247.76 499.11h7.2M257.45 489.91V499.65M253.85 489.91h7.2M253.85 499.65h7.2M263.54 488.32V498.45M259.94 488.32h7.2M259.94 498.45h7.2M269.62 489.56V497.36M266.02 489.56h7.2M266.02 497.36h7.2M275.71 474.68V485.20M272.11 474.68h7.2M272.11 485.20h7.2M281.80 463.38V475.07M278.20 463.38h7.2M278.20 475.07h7.2M287.88 461.67V472.58M284.28 461.67h7.2M284.28 472.58h7.2M293.97 459.95V470.86M290.37 459.95h7.2M290.37 470.86h7.2M300.06 459.57V471.25M296.46 459.57h7.2M296.46 471.25h7.2M306.14 458.82V470.51M302.54 458.82h7.2M302.54 470.51h7.2M312.23 461.16V478.30M308.63 461.16h7.2M308.63 478.30h7.2M318.32 465.99V481.19M314.72 465.99h7.2M314.72 481.19h7.2M324.41 478.38V486.95M320.81 478.38h7.2M320.81 486.95h7.2M330.49 485.32V491.55M326.89 485.32h7.2M326.89 491.55h7.2M336.58 481.85V492.76M332.98 481.85h7.2M332.98 492.76h7.2M342.67 476.20V490.62M339.07 476.20h7.2M339.07 490.62h7.2M348.75 482.67V493.19M345.15 482.67h7.2M345.15 493.19h7.2M354.84 477.68V490.54M351.24 477.68h7.2M351.24 490.54h7.2M360.93 485.16V494.90M357.33 485.16h7.2M357.33 494.90h7.2M367.01 486.80V493.81M363.41 486.80h7.2M363.41 493.81h7.2M373.10 488.59V496.38M369.50 488.59h7.2M369.50 496.38h7.2" stroke="#000" stroke-width="1.35" fill="none"/><polyline points="233.10,491.43 239.19,493.19 245.27,495.06 251.36,494.63 257.45,494.78 263.54,493.38 269.62,493.46 275.71,479.94 281.80,469.23 287.88,467.12 293.97,465.41 300.06,465.41 306.14,464.67 312.23,469.73 318.32,473.59 324.41,482.67 330.49,488.43 336.58,487.30 342.67,483.41 348.75,487.93 354.84,484.11 360.93,490.03 367.01,490.30 373.10,492.49" stroke="#000" stroke-width="1.5" fill="none" stroke-linejoin="round"/><path d="M412.95 417.10V525.60M402.95 515.20H559.45M407.95 505.46H412.95M402.95 495.72H412.95M407.95 485.98H412.95M402.95 476.24H412.95M407.95 466.50H412.95M402.95 456.76H412.95M407.95 447.02H412.95M402.95 437.28H412.95M407.95 427.54H412.95M402.95 417.80H412.95M431.18 515.20V520.70M449.40 515.20V525.60M467.62 515.20V520.70M485.85 515.20V525.60M504.07 515.20V520.70M522.30 515.20V525.60M540.52 515.20V520.70M558.75 515.20V525.60" stroke="#000" stroke-width="1.4" fill="none"/><text x="398.3" y="519.0" text-anchor="end">0</text><text x="398.3" y="499.5" text-anchor="end">50</text><text x="398.3" y="480.0" text-anchor="end">100</text><text x="398.3" y="460.6" text-anchor="end">150</text><text x="398.3" y="441.1" text-anchor="end">200</text><text x="398.3" y="421.6" text-anchor="end">250</text><text x="413.1" y="539.8" text-anchor="middle">0</text><text x="449.6" y="539.8" text-anchor="middle">6</text><text x="486.1" y="539.8" text-anchor="middle">12</text><text x="522.5" y="539.8" text-anchor="middle">18</text><text x="559.0" y="539.8" text-anchor="middle">24</text><text x="420.6" y="434.0">May</text><text x="486.4" y="552.0" text-anchor="middle">Local Time (hours)</text><path d="M413.25 486.17V494.36M409.65 486.17h7.2M409.65 494.36h7.2M419.34 486.17V491.24M415.74 486.17h7.2M415.74 491.24h7.2M425.42 483.99V490.62M421.82 483.99h7.2M421.82 490.62h7.2M431.51 487.73V493.58M427.91 487.73h7.2M427.91 493.58h7.2M437.60 488.36V493.42M434.00 488.36h7.2M434.00 493.42h7.2M443.69 484.38V490.23M440.08 484.38h7.2M440.08 490.23h7.2M449.77 479.82V485.28M446.17 479.82h7.2M446.17 485.28h7.2M455.86 476.12V482.36M452.26 476.12h7.2M452.26 482.36h7.2M461.95 474.33V478.62M458.35 474.33h7.2M458.35 478.62h7.2M468.03 473.32V477.60M464.43 473.32h7.2M464.43 477.60h7.2M474.12 471.14V476.98M470.52 471.14h7.2M470.52 476.98h7.2M480.21 458.12V467.47M476.61 458.12h7.2M476.61 467.47h7.2M486.29 457.62V470.86M482.69 457.62h7.2M482.69 470.86h7.2M492.38 468.06V478.19M488.78 468.06h7.2M488.78 478.19h7.2M498.47 469.81V478.77M494.87 469.81h7.2M494.87 478.77h7.2M504.56 476.94V489.02M500.95 476.94h7.2M500.95 489.02h7.2M510.64 471.76V482.67M507.04 471.76h7.2M507.04 482.67h7.2M516.73 480.53V485.98M513.13 480.53h7.2M513.13 485.98h7.2M522.82 490.62V494.90M519.22 490.62h7.2M519.22 494.90h7.2M528.90 486.17V491.24M525.30 486.17h7.2M525.30 491.24h7.2M534.99 482.67V488.12M531.39 482.67h7.2M531.39 488.12h7.2M541.08 483.45V489.29M537.48 483.45h7.2M537.48 489.29h7.2M547.16 484.81V491.04M543.56 484.81h7.2M543.56 491.04h7.2M553.25 484.85V491.47M549.65 484.85h7.2M549.65 491.47h7.2" stroke="#000" stroke-width="1.35" fill="none"/><polyline points="413.25,490.27 419.34,488.71 425.42,487.30 431.51,490.66 437.60,490.89 443.69,487.30 449.77,482.55 455.86,479.24 461.95,476.47 468.03,475.46 474.12,474.06 480.21,462.80 486.29,464.24 492.38,473.12 498.47,474.29 504.56,482.98 510.64,477.21 516.73,483.25 522.82,492.76 528.90,488.71 534.99,485.40 541.08,486.37 547.16,487.93 553.25,488.16" stroke="#000" stroke-width="1.5" fill="none" stroke-linejoin="round"/></svg></body></html>
